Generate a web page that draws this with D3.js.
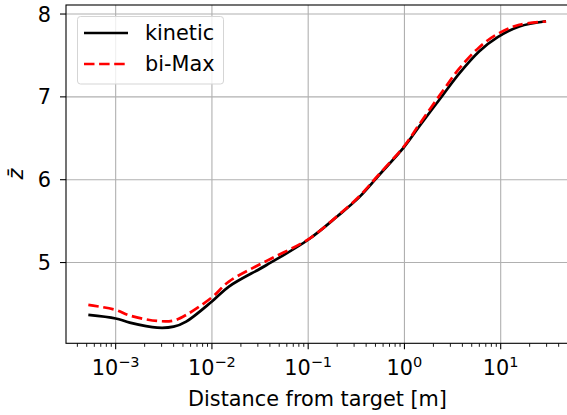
<!DOCTYPE html>
<html>
<head>
<meta charset="utf-8">
<script src="https://cdn.jsdelivr.net/npm/d3@7"></script>
<style>
  html, body { margin: 0; padding: 0; background: #fff; }
  svg { display: block; font-family: "DejaVu Sans", sans-serif; }
</style>
</head>
<body>
<svg id="chart" width="567" height="415"></svg>
<script>
// Distance from target [m]
const distance = [5.2e-4, 1e-3, 1.4e-3, 2.7e-3, 4e-3, 5.4e-3, 1e-2, 1.5e-2, 3.7e-2, 0.1, 0.2, 0.34, 0.54, 1.0, 1.43, 2.5, 3.7, 6.0, 9.3, 15.6, 29.6];
// Mean charge state, kinetic model
const kinetic = [4.368, 4.325, 4.275, 4.214, 4.226, 4.287, 4.53, 4.71, 4.97, 5.275, 5.556, 5.79, 6.05, 6.40, 6.645, 7.02, 7.28, 7.55, 7.72, 7.85, 7.913];
// Mean charge state, bi-Maxwellian model
const biMax = [4.489, 4.428, 4.36, 4.295, 4.30, 4.368, 4.58, 4.77, 5.02, 5.28, 5.56, 5.80, 6.06, 6.41, 6.67, 7.07, 7.34, 7.60, 7.76, 7.87, 7.91];

const xMajor = [-3, -2, -1, 0, 1];
const yMajor = [5, 6, 7, 8];
const seriesNames = ["kinetic", "bi-Max"];

const svg = d3.select("#chart");
const L = 66, R = 570, T = 5, B = 343.3;
const FS = 20.8;
const LW = 2.7;
const DASH = "10.5,4.6";

const x = d3.scaleLog().domain([Math.pow(10, -3.516), Math.pow(10, 1.72)]).range([L, R]);
const y = d3.scaleLinear().domain([4.025, 8.109]).range([B, T]);

const g = svg.append("g");

// grid
g.selectAll(".gx").data(xMajor).enter().append("line")
  .attr("x1", d => x(Math.pow(10, d))).attr("x2", d => x(Math.pow(10, d)))
  .attr("y1", T).attr("y2", B)
  .attr("stroke", "#b0b0b0").attr("stroke-width", 1.1);
g.selectAll(".gy").data(yMajor).enter().append("line")
  .attr("y1", d => y(d)).attr("y2", d => y(d))
  .attr("x1", L).attr("x2", R)
  .attr("stroke", "#b0b0b0").attr("stroke-width", 1.1);

// minor x ticks
const minors = [];
for (let e = -4; e <= 1; e++) {
  for (let m = 2; m <= 9; m++) {
    const v = m * Math.pow(10, e);
    if (x(v) >= L && x(v) <= R) minors.push(v);
  }
}
g.selectAll(".mt").data(minors).enter().append("line")
  .attr("x1", d => x(d)).attr("x2", d => x(d))
  .attr("y1", B).attr("y2", B + 3.5)
  .attr("stroke", "#000").attr("stroke-width", 0.9);

// major ticks
g.selectAll(".xt").data(xMajor).enter().append("line")
  .attr("x1", d => x(Math.pow(10, d))).attr("x2", d => x(Math.pow(10, d)))
  .attr("y1", B).attr("y2", B + 6)
  .attr("stroke", "#000").attr("stroke-width", 1.1);
g.selectAll(".yt").data(yMajor).enter().append("line")
  .attr("y1", d => y(d)).attr("y2", d => y(d))
  .attr("x1", L - 6).attr("x2", L)
  .attr("stroke", "#000").attr("stroke-width", 1.1);

// tick labels
const xl = g.selectAll(".xl").data(xMajor).enter().append("text")
  .attr("x", d => x(Math.pow(10, d)))
  .attr("y", 375)
  .attr("text-anchor", "middle")
  .attr("font-size", FS);
xl.append("tspan").text("10");
xl.append("tspan").attr("dy", -8.5).attr("font-size", 14.5).text(d => d < 0 ? "\u2212" + (-d) : String(d));

g.selectAll(".yl").data(yMajor).enter().append("text")
  .attr("x", L - 15).attr("y", d => y(d))
  .attr("dy", "0.36em")
  .attr("text-anchor", "end")
  .attr("font-size", FS)
  .text(d => d);

// axis labels
g.append("text").attr("x", 317.5).attr("y", 406)
  .attr("text-anchor", "middle").attr("font-size", FS)
  .text("Distance from target [m]");
g.append("text")
  .attr("transform", `translate(23,${(T + B) / 2}) rotate(-90)`)
  .attr("text-anchor", "middle").attr("font-size", FS)
  .attr("font-style", "italic")
  .text("z\u0304");

// curves
const line = d3.line().x(d => x(d[0])).y(d => y(d[1])).curve(d3.curveCatmullRom.alpha(0.5));
g.append("path").datum(distance.map((d, i) => [d, kinetic[i]]))
  .attr("d", line).attr("fill", "none").attr("stroke", "#000")
  .attr("stroke-width", LW).attr("stroke-linejoin", "round");
g.append("path").datum(distance.map((d, i) => [d, biMax[i]]))
  .attr("d", line).attr("fill", "none").attr("stroke", "#ff0000")
  .attr("stroke-width", LW).attr("stroke-dasharray", DASH);

// spines
g.append("rect").attr("x", L).attr("y", T).attr("width", R - L).attr("height", B - T)
  .attr("fill", "none").attr("stroke", "#000").attr("stroke-width", 1.1);

// legend
const lg = g.append("g");
lg.append("rect").attr("x", 77.5).attr("y", 16.5).attr("width", 146).attr("height", 67.5)
  .attr("rx", 3).attr("fill", "#fff").attr("fill-opacity", 0.8)
  .attr("stroke", "#d5d5d5").attr("stroke-width", 1);
const styles = [{ c: "#000", dash: null }, { c: "#ff0000", dash: DASH }];
seriesNames.forEach((name, i) => {
  const yy = 33 + i * 31;
  lg.append("line").attr("x1", 84).attr("x2", 128).attr("y1", yy).attr("y2", yy)
    .attr("stroke", styles[i].c).attr("stroke-width", LW)
    .attr("stroke-dasharray", styles[i].dash);
  lg.append("text").attr("x", 145).attr("y", yy).attr("dy", "0.36em")
    .attr("font-size", FS).text(name);
});
</script>
</body>
</html>
